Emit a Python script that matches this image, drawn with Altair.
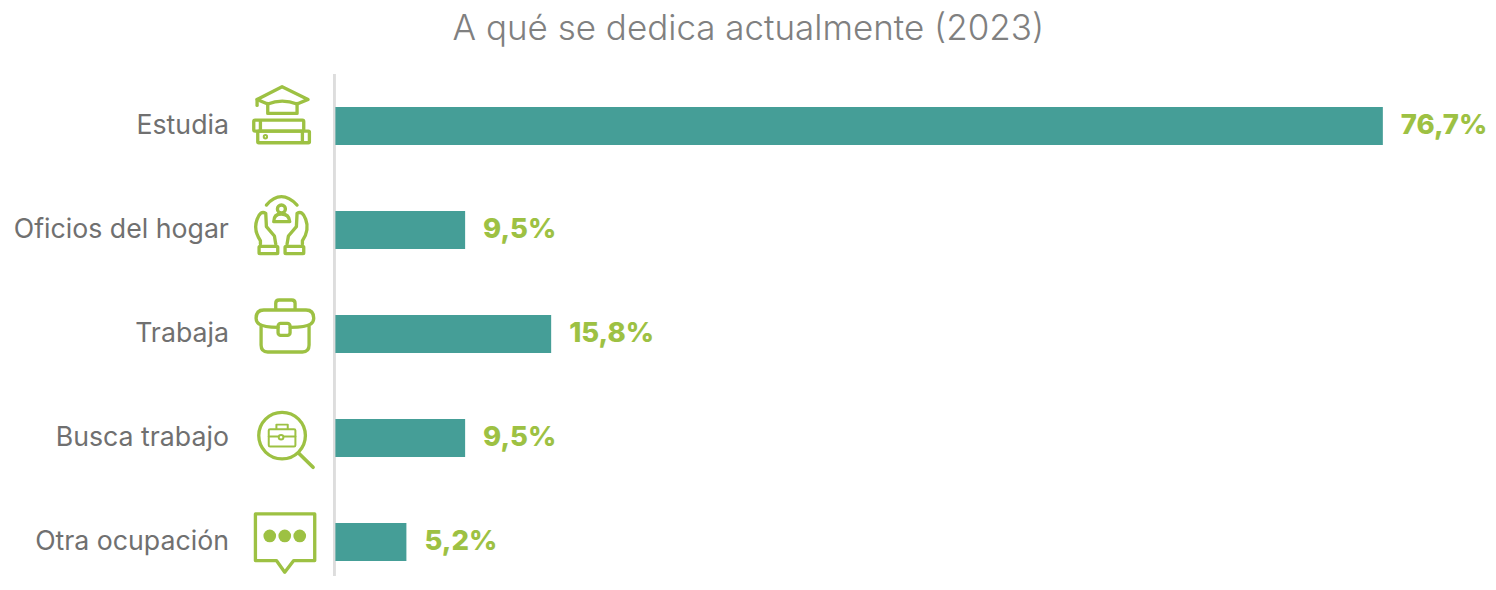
import base64
import altair as alt
import pandas as pd

categories = ["Estudia", "Oficios del hogar", "Trabaja", "Busca trabajo", "Otra ocupación"]
values = [76.7, 9.5, 15.8, 9.5, 5.2]
labels = ["76,7%", "9,5%", "15,8%", "9,5%", "5,2%"]

GREEN = "#9DC143"
TEAL = "#459E97"

def svg(viewbox, body):
    s = (f'<svg xmlns="http://www.w3.org/2000/svg" width="270" height="240" viewBox="{viewbox}">'
         f'<g fill="none" stroke="{GREEN}" stroke-width="10" stroke-linejoin="round" stroke-linecap="round">{body}</g></svg>')
    return "data:image/svg+xml;base64," + base64.b64encode(s.encode()).decode()

def hand(x):
    # x maps a left-hand coordinate to the mirrored side
    return f'<path d="M60 522 V512 Q38 480 50 448 Q60 420 76 430 L78 470 L102 498 L106 522" transform="{x}"/>' \
           f'<rect x="56" y="529" width="56" height="22" rx="3" transform="{x}"/>'

icons = [
    svg("-9 33 270 240",
        '<path d="M50 88 L125 50 L203 88 L170 102 Q125 84 82 102 Z"/>'
        '<path d="M50 88 V106"/>'
        '<path d="M82 100 V130 H170 V100"/>'
        '<rect x="40" y="150" width="150" height="33" rx="4"/>'
        '<rect x="52" y="183" width="155" height="35" rx="3"/>'
        '<path d="M60 152 V181 M186 185 V216"/>'
        '<circle cx="75" cy="200" r="3"/>'),
    svg("-9 345 270 240",
        '<path d="M78 405 Q122 355 170 405"/>'
        '<circle cx="123" cy="417" r="12"/>'
        '<path d="M100 455 Q100 432 123 432 Q146 432 148 455 Z"/>'
        + hand("") + hand("matrix(-1 0 0 1 246 0)")),
    svg("-9 657 270 240",
        '<path d="M106 718 V700 Q106 690 116 690 H154 Q164 690 164 700 V718"/>'
        '<path d="M113 772 Q70 772 56 762 Q47 756 47 745 Q47 720 70 720 H197 Q220 720 220 745 Q220 756 211 762 Q197 772 150 772"/>'
        '<path d="M62 768 V825 Q62 846 82 846 H186 Q206 846 206 825 V768"/>'
        '<rect x="113" y="760" width="36" height="36" rx="8"/>'),
    svg("-9 9 270 240",
        '<circle cx="125" cy="137" r="70" stroke-width="10"/>'
        '<path d="M175 190 L218 232" stroke-width="11"/>'
        '<g stroke-width="6"><rect x="85" y="118" width="80" height="52" rx="4"/>'
        '<path d="M108 117 V104 H142 V117 M85 140 H112 M132 140 H165"/>'
        '<circle cx="122" cy="142" r="7"/></g>'),
    svg("-9 321 270 240",
        '<path d="M45 372 H223 V512 H160 L133 547 L108 512 H45 Z" stroke-width="10"/>'
        f'<g fill="{GREEN}" stroke="none"><circle cx="88" cy="438" r="19"/>'
        '<circle cx="133" cy="438" r="19"/><circle cx="178" cy="438" r="19"/></g>'),
]

df = pd.DataFrame({"categoria": categories, "valor": values, "etiqueta": labels, "icono": icons})

y = alt.Y("categoria:N", sort=categories, title=None,
          scale=alt.Scale(paddingInner=0.635, paddingOuter=0.3175, range=[0, 520]),
          axis=alt.Axis(domain=False, ticks=False, labelPadding=107,
                        labelFont="Inter", labelFontSize=26.7, labelColor="#707070",
                        labelFontWeight=400, labelLimit=320))
x = alt.X("valor:Q", title=None, axis=None, scale=alt.Scale(domain=[0, 84.4], nice=False, range=[0, 1153]))

bars = alt.Chart(df).mark_bar(color=TEAL).encode(x=x, y=y)
text = alt.Chart(df).mark_text(align="left", baseline="middle", dx=18, font="Inter", fontSize=27.5,
                               fontWeight=800, color=GREEN).encode(x=x, y=y, text="etiqueta:N")
imgs = alt.Chart(df).mark_image(width=90, height=80, yOffset=-5).encode(x=alt.value(-53), y=y, url="icono:N")
line = alt.Chart(df).mark_rule(color="#DDDDDD", strokeWidth=2).encode(
    x=alt.value(-1), y=alt.value(0), y2=alt.value(502))

chart = (line + bars + text + imgs).properties(
    width=1140, height=502,
    padding={"left": 4.5, "top": 3, "right": 0, "bottom": 0},
    title=alt.TitleParams("A qué se dedica actualmente (2023)", font="Inter", fontSize=35, fontWeight=300,
                          color="#808080", anchor="middle", frame="bounds", offset=26.5, dx=-2),
).configure_view(stroke=None)

chart.save("out.html", embed_options={"renderer": "svg", "actions": False})
